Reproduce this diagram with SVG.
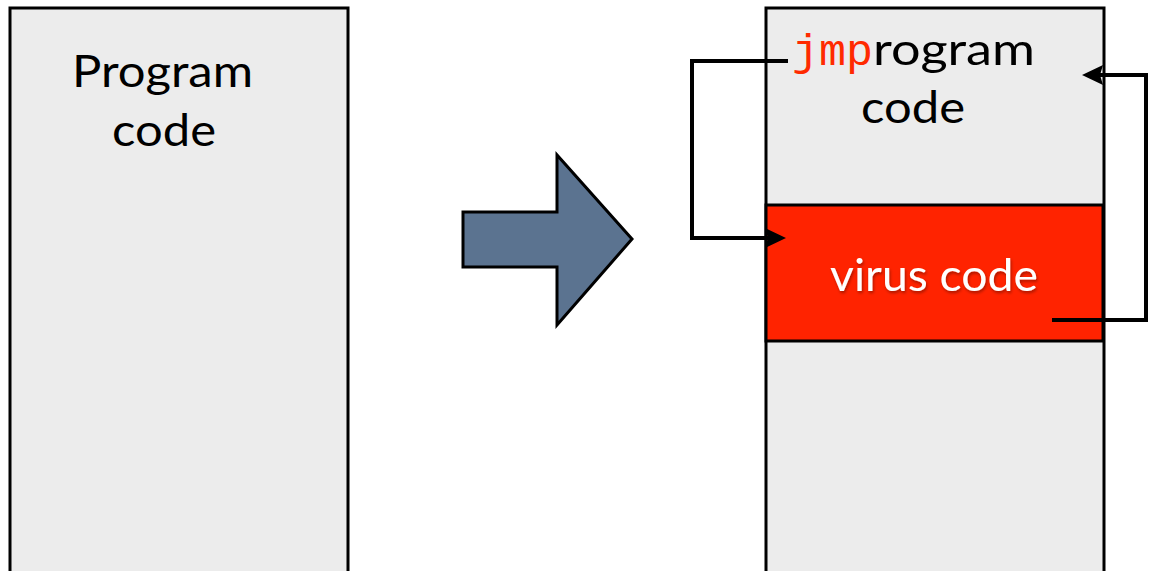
<svg xmlns="http://www.w3.org/2000/svg" width="1149" height="571" viewBox="0 0 1149 571">
<defs>
<style>
.box{fill:#ececec;stroke:#000;stroke-width:3}
.t{font-family:Lato,"Open Sans",sans-serif;font-size:45px;fill:#000}
.conn{fill:none;stroke:#000;stroke-width:4}
</style>
<path id="head" d="M0,0 L-21,-10 L-18,0 L-21,10 Z" fill="#000"/>
<filter id="sh" x="-10%" y="-30%" width="120%" height="160%">
<feDropShadow dx="1" dy="2" stdDeviation="1.5" flood-color="#000" flood-opacity="0.35"/>
</filter>
</defs>
<rect width="1149" height="571" fill="#fff"/>
<g id="original">
<rect class="box" x="10" y="8" width="338" height="580"/>
<text class="t" x="72" y="87" textLength="181" lengthAdjust="spacingAndGlyphs">Program</text>
<text class="t" x="112" y="146" textLength="104" lengthAdjust="spacingAndGlyphs">code</text>
</g>
<g id="transform-arrow">
<polygon points="463,212 557,212 557,155 632,239 557,325 557,267 463,267" fill="#5b7390" stroke="#000" stroke-width="3" stroke-linejoin="miter"/>
</g>
<g id="infected">
<rect class="box" x="766" y="8" width="338" height="580"/>
<text x="792" y="65" class="t"><tspan font-family="'Liberation Mono',monospace" fill="#ff2a00" textLength="81" lengthAdjust="spacingAndGlyphs">jmp</tspan><tspan textLength="162" lengthAdjust="spacingAndGlyphs">rogram</tspan></text>
<text class="t" x="861" y="123" textLength="104" lengthAdjust="spacingAndGlyphs">code</text>
</g>
<g id="virus">
<rect x="766" y="205" width="337" height="136" fill="#ff2300" stroke="#000" stroke-width="3"/>
<text class="t" x="830" y="291" style="fill:#fff" filter="url(#sh)" textLength="208" lengthAdjust="spacingAndGlyphs">virus code</text>
</g>
<g id="connectors">
<path class="conn" d="M788,61 H692 V238 H768"/>
<use href="#head" transform="translate(786,238)"/>
<path class="conn" d="M1052,320 H1146 V75 H1100"/>
<use href="#head" transform="translate(1082,75) rotate(180)"/>
</g>
</svg>
